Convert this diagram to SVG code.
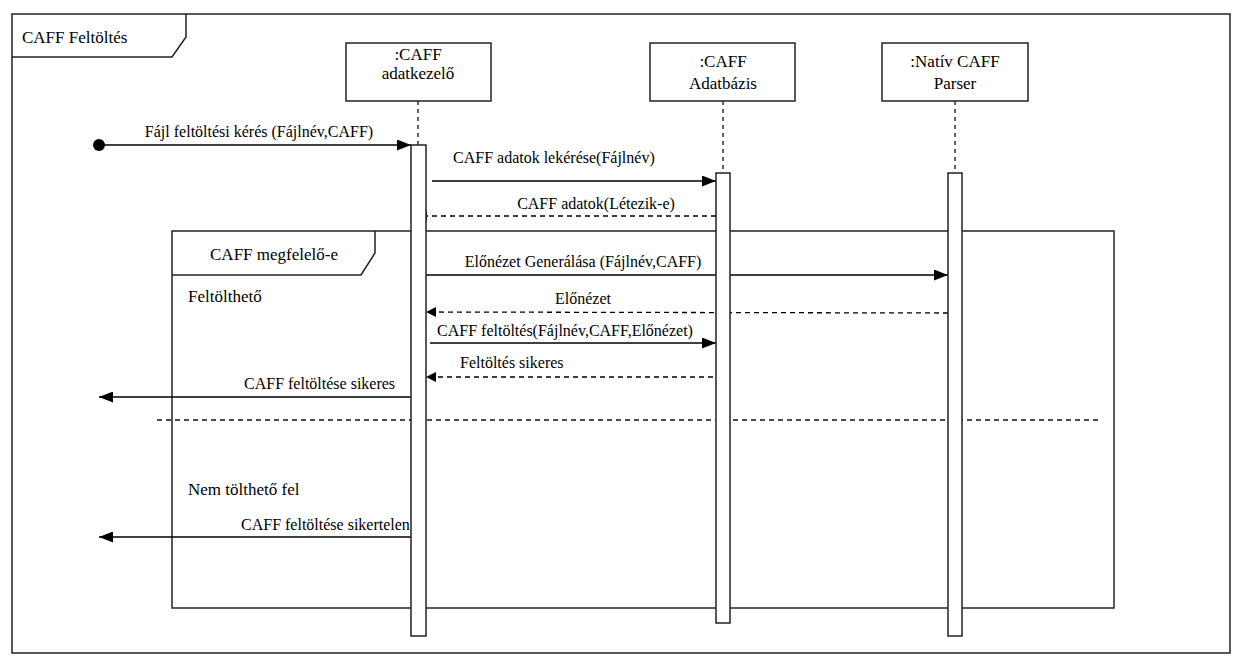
<svg xmlns="http://www.w3.org/2000/svg" width="1244" height="665" viewBox="0 0 1244 665">
  <style>
    .frame { fill: none; stroke: #222; stroke-width: 1.5; }
    .box { fill: #fff; stroke: #222; stroke-width: 1.5; }
    .life { fill: none; stroke: #222; stroke-width: 1.4; stroke-dasharray: 4 4; }
    .msg { fill: none; stroke: #000; stroke-width: 1.3; }
    .ret { fill: none; stroke: #000; stroke-width: 1.3; stroke-dasharray: 5 4; }
    .sep { fill: none; stroke: #111; stroke-width: 1.3; stroke-dasharray: 5 4; }
    text { font-family: "Liberation Serif", "Times New Roman", serif; fill: #000; }
    .t17 { font-size: 17px; }
    .t16 { font-size: 16px; }
    .mid { text-anchor: middle; }
  </style>
  <defs>
    <marker id="arrow" viewBox="0 0 10 10" refX="10" refY="5" markerWidth="10" markerHeight="10" markerUnits="userSpaceOnUse" orient="auto">
      <path d="M0,0 L10,5 L0,10 Z" fill="#000"/>
    </marker>
    <marker id="arrowBig" viewBox="0 0 14 11" refX="14" refY="5.5" markerWidth="14" markerHeight="11" markerUnits="userSpaceOnUse" orient="auto">
      <path d="M0,0 L14,5.5 L0,11 Z" fill="#000"/>
    </marker>
  </defs>

  <rect x="0" y="0" width="1244" height="665" fill="#fff"/>

  <!-- outer interaction frame -->
  <g id="frame-main">
    <rect class="frame" x="12" y="14" width="1218" height="639"/>
    <path class="frame" d="M12,57 L172,57 L186,37 L186,14"/>
    <text class="t17" x="22" y="43">CAFF Feltöltés</text>
  </g>

  <!-- alt combined fragment -->
  <g id="frag-alt">
    <rect class="frame" x="172" y="231" width="942" height="377"/>
    <path class="frame" d="M172,275 L361,275 L375,253 L375,231"/>
    <text class="t17 mid" x="274" y="260">CAFF megfelelő-e</text>
    <text class="t17" x="188" y="302">Feltölthető</text>
    <text class="t17" x="188" y="495">Nem tölthető fel</text>
  </g>

  <!-- connectors -->
  <g id="connectors">
    <line class="sep" x1="157" y1="420" x2="1100" y2="420"/>

    <circle cx="99" cy="145" r="6" fill="#000"/>
    <line class="msg" x1="99" y1="145" x2="411" y2="145" marker-end="url(#arrowBig)"/>
    <text class="t16 mid" x="259" y="137">Fájl feltöltési kérés (Fájlnév,CAFF)</text>

    <line class="msg" x1="432" y1="181" x2="716" y2="181" marker-end="url(#arrowBig)"/>
    <text class="t16" x="453" y="163">CAFF adatok lekérése(Fájlnév)</text>

    <line class="ret" x1="716" y1="216" x2="417" y2="216" marker-end="url(#arrow)"/>
    <text class="t16 mid" x="596" y="209">CAFF adatok(Létezik-e)</text>

    <line class="msg" x1="426" y1="275" x2="948" y2="275" marker-end="url(#arrowBig)"/>
    <text class="t16 mid" x="583" y="267">Előnézet Generálása (Fájlnév,CAFF)</text>

    <line class="ret" x1="948" y1="313" x2="426" y2="312" marker-end="url(#arrow)"/>
    <text class="t16 mid" x="583" y="304">Előnézet</text>

    <line class="msg" x1="430" y1="343" x2="716" y2="343" marker-end="url(#arrowBig)"/>
    <text class="t16 mid" x="565" y="336">CAFF feltöltés(Fájlnév,CAFF,Előnézet)</text>

    <line class="ret" x1="713" y1="377" x2="426" y2="377" marker-end="url(#arrow)"/>
    <text class="t16" x="460" y="368">Feltöltés sikeres</text>

    <line class="msg" x1="411" y1="397" x2="99" y2="397" marker-end="url(#arrowBig)"/>
    <text class="t16" x="244" y="389">CAFF feltöltése sikeres</text>

    <line class="msg" x1="411" y1="537" x2="99" y2="537" marker-end="url(#arrowBig)"/>
    <text class="t16" x="241" y="530">CAFF feltöltése sikertelen</text>
  </g>

  <!-- lifeline: CAFF adatkezelő -->
  <g id="ll-adatkezelo">
    <rect class="box" x="346" y="43" width="145" height="58"/>
    <text class="t17 mid" x="418" y="60">:CAFF</text>
    <text class="t17 mid" x="418" y="79">adatkezelő</text>
    <line class="life" x1="418" y1="101" x2="418" y2="145"/>
    <rect class="box" x="411" y="145" width="15" height="491"/>
  </g>

  <!-- lifeline: CAFF Adatbázis -->
  <g id="ll-adatbazis">
    <rect class="box" x="650" y="43" width="145" height="58"/>
    <text class="t17 mid" x="723" y="67">:CAFF</text>
    <text class="t17 mid" x="723" y="89">Adatbázis</text>
    <line class="life" x1="723" y1="101" x2="723" y2="173"/>
    <rect class="box" x="716" y="173" width="14" height="450"/>
  </g>

  <!-- lifeline: Natív CAFF Parser -->
  <g id="ll-parser">
    <rect class="box" x="882" y="43" width="146" height="58"/>
    <text class="t17 mid" x="955" y="67">:Natív CAFF</text>
    <text class="t17 mid" x="955" y="89">Parser</text>
    <line class="life" x1="955" y1="101" x2="955" y2="173"/>
    <rect class="box" x="948" y="173" width="14" height="463"/>
  </g>
</svg>
